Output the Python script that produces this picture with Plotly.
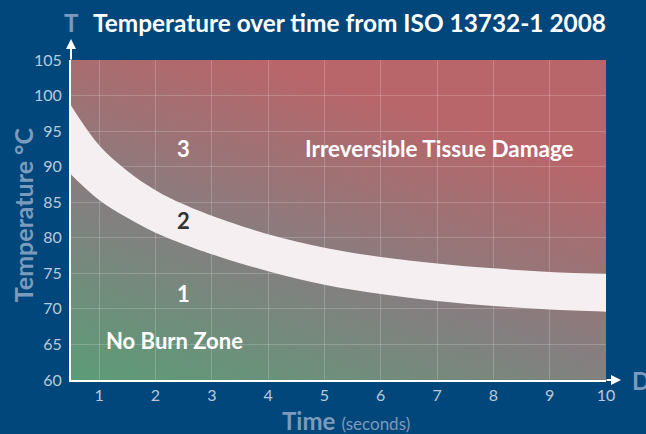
import plotly.graph_objects as go
import urllib.parse

# Data
time_s = [0.5, 1, 1.5, 2, 2.5, 3, 4, 5, 6, 7, 8, 9, 10]
upper_temp = [98.6, 93.0, 89.4, 86.7, 84.7, 83.1, 80.5, 78.6, 77.3, 76.4, 75.7, 75.2, 74.9]
lower_temp = [88.9, 85.3, 82.8, 80.7, 79.1, 77.7, 75.3, 73.4, 72.1, 71.1, 70.4, 69.9, 69.6]

x_ticks = [1, 2, 3, 4, 5, 6, 7, 8, 9, 10]
y_ticks = [60, 65, 70, 75, 80, 85, 90, 95, 100, 105]

zone_labels = ["3", "2", "1"]
zone_x = [2.5, 2.5, 2.5]
zone_y = [92.5, 82.4, 72.1]
zone_colors = ["white", "#333333", "white"]

BG = "#02477b"
TICK = "#b8cadc"
AXT = "#7b9bbd"
FONT = "Lato"

svg = (
    "<svg xmlns='http://www.w3.org/2000/svg' width='535' height='320' preserveAspectRatio='none'>"
    "<defs><linearGradient id='g' x1='0' y1='1' x2='0.486' y2='0.081'>"
    "<stop offset='0' stop-color='#5b9c77'/>"
    "<stop offset='0.5' stop-color='#857e80'/>"
    "<stop offset='1' stop-color='#b8666a'/>"
    "</linearGradient></defs>"
    "<rect width='535' height='320' fill='url(#g)'/></svg>"
)
src = "data:image/svg+xml;charset=utf-8," + urllib.parse.quote(svg)

fig = go.Figure()
fig.add_trace(go.Scatter(x=time_s, y=lower_temp, mode="lines", line=dict(width=0, shape="spline"),
                         hoverinfo="skip", showlegend=False))
fig.add_trace(go.Scatter(x=time_s, y=upper_temp, mode="lines", line=dict(width=0, shape="spline"),
                         fill="tonexty", fillcolor="#f6eff1", hoverinfo="skip", showlegend=False))

fig.add_layout_image(dict(source=src, xref="paper", yref="paper", x=0, y=1, sizex=1, sizey=1,
                          sizing="stretch", layer="below"))

for lab, x, y, c in zip(zone_labels, zone_x, zone_y, zone_colors):
    fig.add_annotation(x=x, y=y, text="<b>" + lab + "</b>", showarrow=False,
                       font=dict(family=FONT, size=22, color=c))

fig.add_annotation(x=7.05, y=92.5, text="<b>Irreversible Tissue Damage</b>", showarrow=False,
                   font=dict(family=FONT, size=22.5, color="white"))
fig.add_annotation(x=2.33, y=65.5, text="<b>No Burn Zone</b>", showarrow=False,
                   font=dict(family=FONT, size=22, color="white"))

# axis arrows
fig.add_annotation(xref="paper", yref="paper", x=0, y=1 + 21 / 320, ax=0, ay=22, text="",
                   showarrow=True, arrowhead=2, arrowsize=1, arrowwidth=2, arrowcolor="white")
fig.add_annotation(xref="paper", yref="paper", x=1 + 15 / 535, y=0, ax=-16, ay=0, text="",
                   showarrow=True, arrowhead=2, arrowsize=1, arrowwidth=2, arrowcolor="white")
fig.add_annotation(xref="paper", yref="paper", x=1 + 24 / 535, y=0, xanchor="left", yanchor="middle",
                   text="<b>D</b>", showarrow=False, font=dict(family=FONT, size=24, color=AXT))
fig.add_annotation(xref="paper", yref="paper", x=0, y=1 + 38 / 320, xanchor="center", yanchor="middle",
                   text="<b>T</b>", showarrow=False, font=dict(family=FONT, size=24, color=AXT))

# title
fig.add_annotation(xref="paper", yref="paper", x=20 / 535, y=1 + 38 / 320, xanchor="left", yanchor="middle",
                   text="<b>Temperature over time from ISO 13732-1 2008</b>", showarrow=False,
                   font=dict(family=FONT, size=24.4, color="white"))

# axis titles
fig.add_annotation(xref="paper", yref="paper", x=-48 / 535, y=0.515, xanchor="center", yanchor="middle",
                   textangle=-90, text="<b>Temperature °C</b>", showarrow=False,
                   font=dict(family=FONT, size=25, color=AXT))
fig.add_annotation(xref="paper", yref="paper", x=0.514, y=-40 / 320, xanchor="center", yanchor="middle",
                   text="<b>Time</b> <span style='font-size:17px'>(seconds)</span>", showarrow=False,
                   font=dict(family=FONT, size=24, color=AXT))

fig.update_layout(
    width=646, height=434,
    margin=dict(l=71, r=40, t=60, b=54),
    paper_bgcolor=BG, plot_bgcolor="rgba(0,0,0,0)",
    font=dict(family=FONT),
    xaxis=dict(range=[0.5, 10], tickvals=x_ticks, showgrid=True, gridcolor="rgba(255,255,255,0.2)",
               gridwidth=1, zeroline=False, showline=True, linecolor="white", linewidth=2,
               tickfont=dict(family=FONT, size=16, color=TICK), ticks="", fixedrange=True),
    yaxis=dict(range=[60, 105], tickvals=y_ticks, showgrid=True, gridcolor="rgba(255,255,255,0.2)",
               gridwidth=1, zeroline=False, showline=True, linecolor="white", linewidth=2,
               tickfont=dict(family=FONT, size=16, color=TICK), ticks="", fixedrange=True,
               ticklabelstandoff=4),
)

fig.write_html("out.html", config={"displayModeBar": False},
               post_script="document.body.style.margin='0';document.body.style.background='" + BG + "';")
